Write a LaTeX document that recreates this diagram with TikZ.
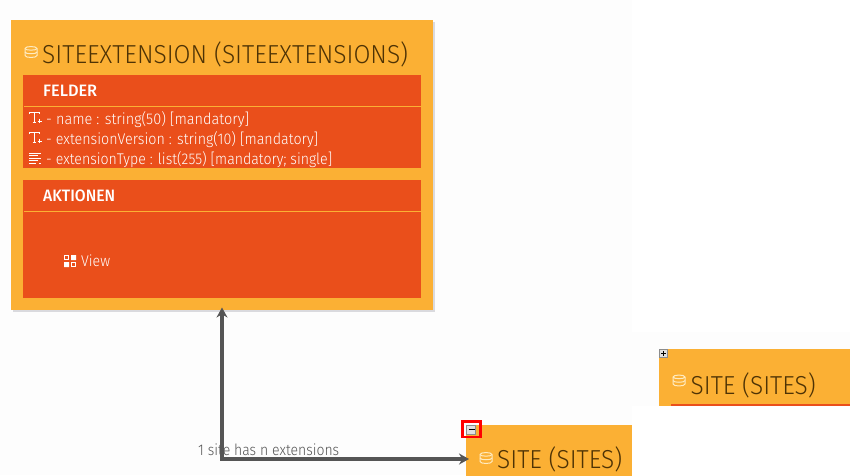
\documentclass[tikz,border=0pt]{standalone}
\usepackage{fontspec}
\usepackage{graphicx}
\setmainfont{Fira Sans Light}
\newfontfamily\headfont{Fira Sans Medium}
\usetikzlibrary{arrows.meta}
\definecolor{amber}{HTML}{FBB034}
\definecolor{brick}{HTML}{EA4F1B}
\definecolor{paper}{HTML}{FDFDFD}
\definecolor{ink}{HTML}{4E3305}
\definecolor{cream}{HTML}{FFEBC0}
\definecolor{wire}{HTML}{555555}
\definecolor{shadowgrey}{HTML}{DADADE}
\newcommand{\fitw}[2]{\resizebox{#1pt}{\height}{#2}}
\tikzset{
  x=1pt,y=-1pt,
  panel/.style={draw=none,fill=#1,inner sep=0pt,outer sep=0pt,anchor=north west},
  titletext/.style={text=ink,inner sep=0pt,anchor=base west,font=\fontsize{26}{26}\selectfont},
  headtext/.style={text=white,inner sep=0pt,anchor=base west,font=\headfont\fontsize{16.5}{17}\selectfont},
  rowtext/.style={text=white,inner sep=0pt,anchor=base west,font=\fontsize{15.5}{16}\selectfont},
  conn/.style={draw=wire,line width=4pt,{Stealth[length=10pt,width=11pt]}-{Stealth[length=10pt,width=11pt]},shorten <=-2pt,shorten >=-3pt},
  toggle/.style={draw=black!45,line width=.6pt,fill=black!12,inner sep=0pt,outer sep=0pt,anchor=north west},
  dbicon/.pic={
    \draw[cream,line width=1pt] (0,2) .. controls (0,-.6) and (12,-.6) .. (12,2) -- (12,9) .. controls (12,11.6) and (0,11.6) .. (0,9) -- cycle;
    \draw[cream,line width=1pt] (0,2) .. controls (0,4.2) and (12,4.2) .. (12,2);
    \draw[cream,line width=1pt] (0,5.6) .. controls (0,7.8) and (12,7.8) .. (12,5.6);
  },
  ticon/.pic={
    \draw[white,line width=.7pt] (0,1.5) -- (0,0) -- (9.5,0) -- (9.5,1.5) (4.7,0) -- (4.7,10) (3,10) -- (6.4,10);
    \draw[white,line width=.8pt] (8,8.5) -- (12.5,8.5) (10.2,6.3) -- (10.2,10.7);
  },
  listicon/.pic={
    \draw[white,line width=.7pt] (0,0) -- (12,0) (0,2.6) -- (9,2.6) (0,5.2) -- (12,5.2) (0,7.8) -- (9,7.8) (0,10.4) -- (7,10.4) (10,10.4) -- (12,10.4);
  },
  viewicon/.pic={
    \draw[white,line width=1pt] (.5,.5) rectangle (4.5,4.5) (7.5,7.5) rectangle (11.5,11.5);
    \fill[white] (7,0) rectangle (12,5) (0,7) rectangle (5,12);
  }
}
\begin{document}
\begin{tikzpicture}
\useasboundingbox (0,0) rectangle (850,475);
\clip (0,0) rectangle (850,475);
\fill[white] (0,0) rectangle (850,475);
\fill[paper] (0,0) rectangle (632,475);
\fill[paper] (632,332) rectangle (850,406);
% main entity
\fill[shadowgrey] (13,22) rectangle (435,312);
\node[panel=amber,minimum width=422pt,minimum height=289.5pt] (ext) at (11,20) {};
\node[panel=brick,minimum width=398pt,minimum height=93pt] (fields) at (23,75) {};
\node[panel=brick,minimum width=398pt,minimum height=118pt] (actions) at (23,180) {};
\draw[amber,line width=1pt] (24,106.5) -- (421,106.5);
\draw[amber,line width=1pt] (24,211.5) -- (421,211.5);
\pic at (25,46.5) {dbicon};
\node[titletext] (exttitle) at (42,63) {\fitw{366}{SITEEXTENSION (SITEEXTENSIONS)}};
\node[headtext] (felder) at (43,96.5) {\fitw{54}{FELDER}};
\pic at (29.5,112.5) {ticon};
\node[rowtext] (row1) at (46,124) {\fitw{203}{- name : string(50) [mandatory]}};
\pic at (29.5,132.5) {ticon};
\node[rowtext] (row2) at (46,144) {\fitw{272}{- extensionVersion : string(10) [mandatory]}};
\pic at (29,153) {listicon};
\node[rowtext] (row3) at (46,164) {\fitw{286}{- extensionType : list(255) [mandatory; single]}};
\node[headtext] (aktionen) at (43,201.5) {\fitw{72}{AKTIONEN}};
\pic at (64,255) {viewicon};
\node[rowtext] (view) at (81,266.5) {\fitw{29}{View}};
% site, in the diagram
\node[panel=amber,minimum width=166pt,minimum height=68pt] (site) at (466,425) {};
\pic at (480,452.5) {dbicon};
\node[titletext] (sitetitle) at (497,468) {\fitw{125}{SITE (SITES)}};
\draw[red,line width=2.6pt] (462.2,421.7) rectangle (480.6,437);
\node[toggle,minimum width=9pt,minimum height=9pt] (minus) at (466.5,425) {};
\draw[black,line width=1.2pt] (468.5,429.5) -- (474.5,429.5);
% site, collapsed copy
\node[panel=amber,minimum width=191pt,minimum height=57pt] (site2) at (659,349) {};
\fill[brick] (671,404) rectangle (850,406);
\pic at (673,375) {dbicon};
\node[titletext] (site2title) at (690.5,394) {\fitw{125}{SITE (SITES)}};
\node[toggle,minimum width=8pt,minimum height=8pt] (plus) at (659.5,349.5) {};
\draw[black,line width=1.1pt] (661.2,353.5) -- (666,353.5) (663.6,351) -- (663.6,356);
% relation
\node[text=wire,inner sep=0pt,anchor=base west,font=\fontsize{15.5}{16}\selectfont] (rel) at (198,455) {\fitw{141}{1 site has n extensions}};
\draw[conn] (ext.south) |- (site.west);
\end{tikzpicture}
\end{document}
